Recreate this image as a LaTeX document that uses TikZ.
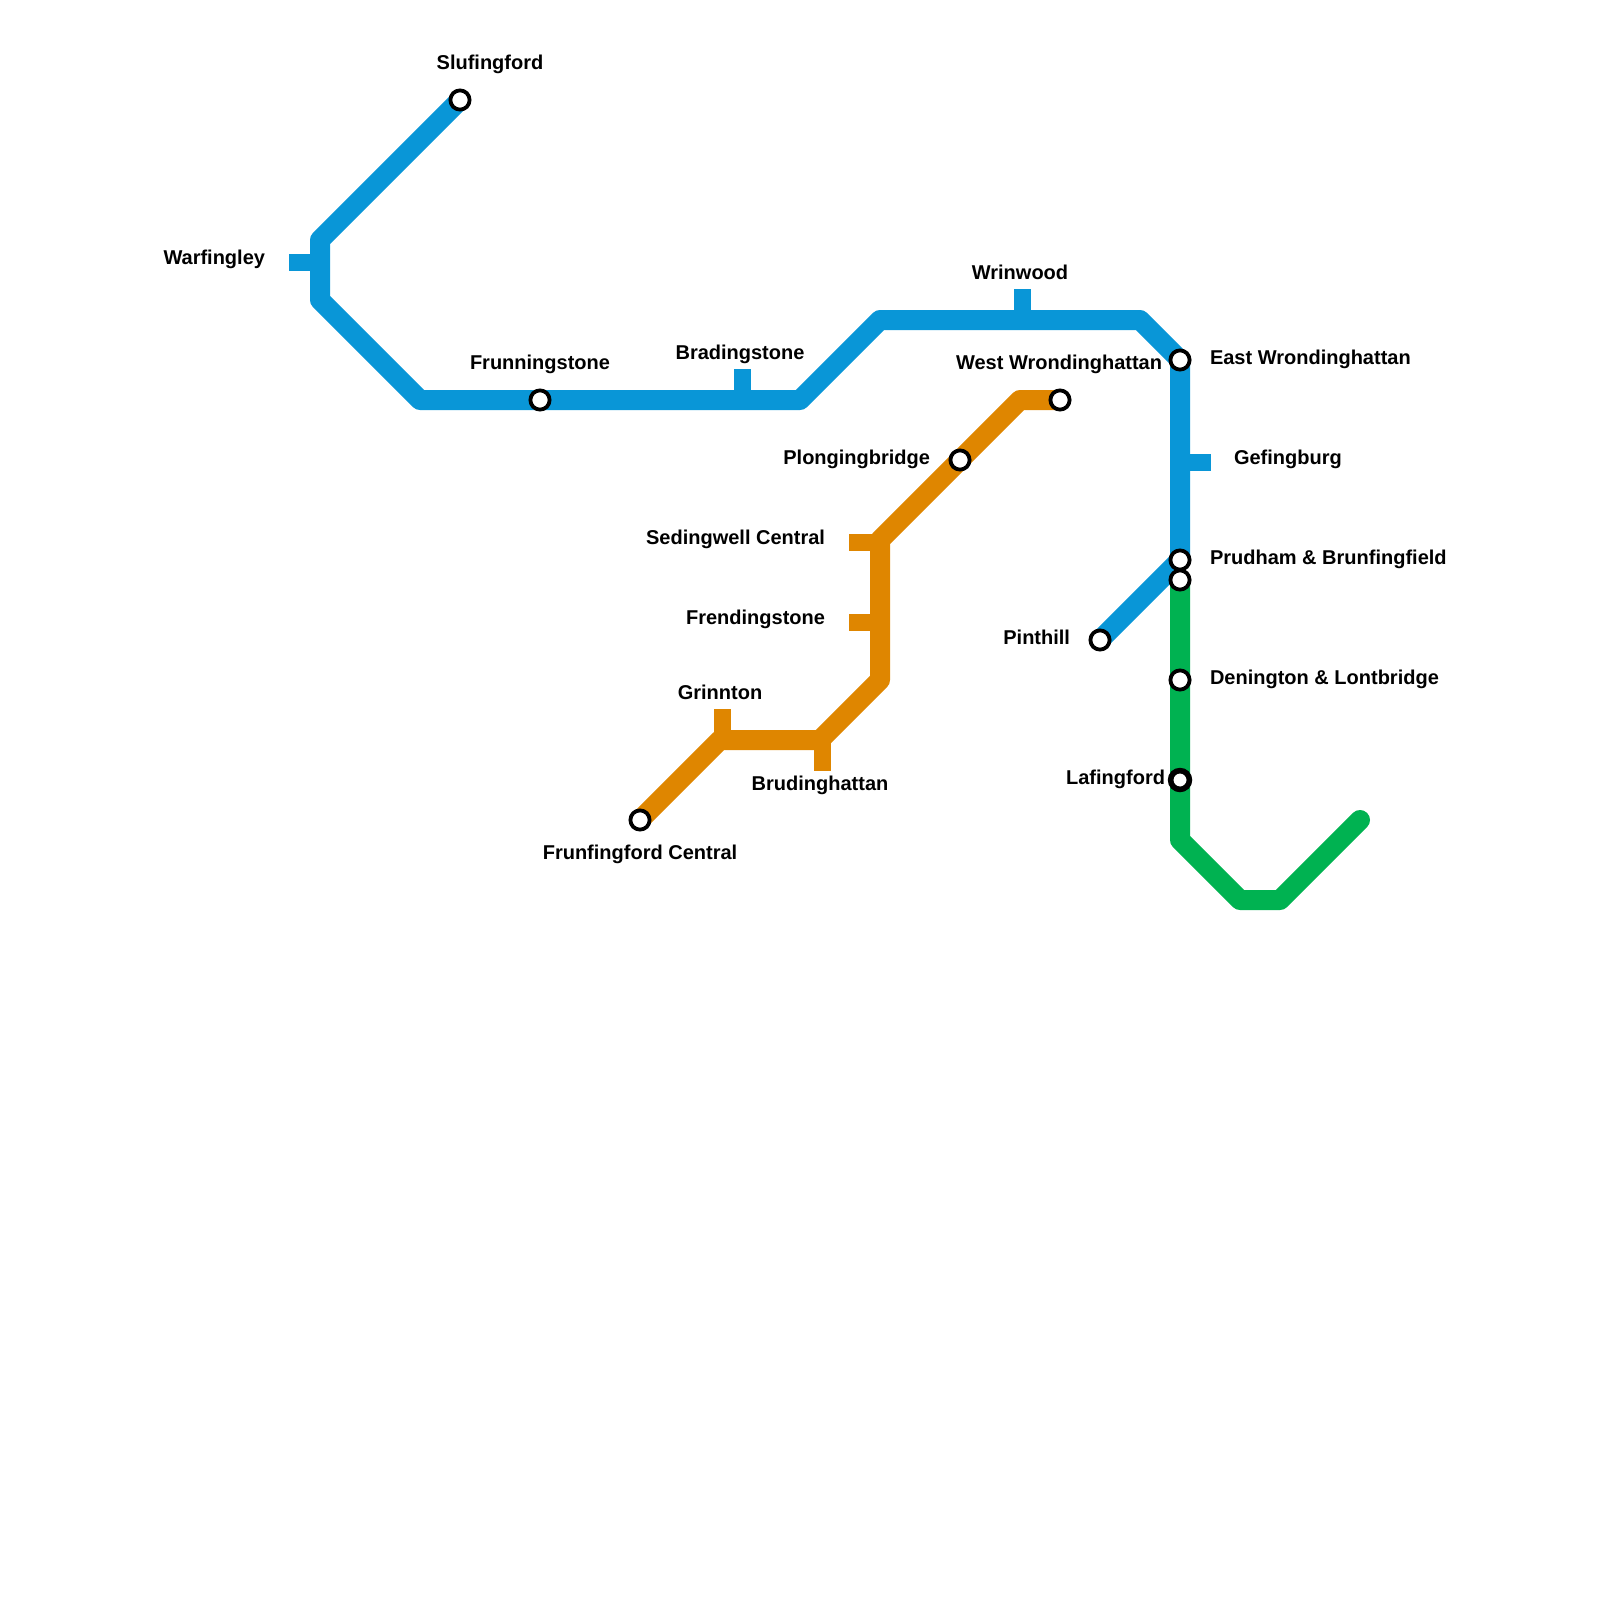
\documentclass[tikz,border=0pt]{standalone}
\usepackage{fontspec}
\setmainfont{Liberation Sans}
\usepackage{xcolor}
\usepackage{tikz}
\usetikzlibrary{positioning, backgrounds}
\definecolor{lineblue}{RGB}{9,150,215}
\definecolor{lineorange}{RGB}{223,134,0}
\definecolor{linegreen}{RGB}{0,178,81}
\tikzset{
  station/.style={
    circle,
    draw=black,
    fill=white,
    line width=1.9pt,
    inner sep=0pt,
    outer sep=0pt,
    minimum size=9.6pt
  },
  bigstation/.style={
    station,
    line width=2.8pt,
    minimum size=9.4pt
  },
  stationlabel/.style={
    font=\fontsize{10}{12}\selectfont\bfseries,
    inner sep=0pt,
    outer sep=0pt,
    text height=7pt,
    text depth=2pt
  },
  route/.style={line width=10pt, line join=round},
  stub/.style={line width=8.5pt}
}

\begin{document}
\begin{tikzpicture}[x=0.5pt, y=-0.5pt]
\useasboundingbox (0,0) rectangle (1600,1600);

\node[station] (slufingford) at (460,100) {};
\node[station] (frunningstone) at (540,400) {};
\node[station] (eastwrond) at (1180,360) {};
\node[station] (prudham) at (1180,560) {};
\node[station] (pinthill) at (1100,640) {};
\node[station] (frunfingford) at (640,820) {};
\node[station] (plonging) at (960,460) {};
\node[station] (westwrond) at (1060,400) {};
\node[station] (linkgreen) at (1180,580) {};
\node[station] (denington) at (1180,680) {};
\node[bigstation] (lafingford) at (1180,780) {};

\coordinate (warfingley) at (320,262);
\coordinate (warfingleyend) at (289,262);
\coordinate (bradingstone) at (742,400);
\coordinate (bradingstoneend) at (742,369);
\coordinate (wrinwood) at (1022,320);
\coordinate (wrinwoodend) at (1022,289);
\coordinate (gefingburg) at (1180,462);
\coordinate (gefingburgend) at (1211,462);
\coordinate (sedingwell) at (880,542);
\coordinate (sedingwellend) at (849,542);
\coordinate (frendingstone) at (880,622);
\coordinate (frendingstoneend) at (849,622);
\coordinate (grinnton) at (722,740);
\coordinate (grinntonend) at (722,709);
\coordinate (brudinghattan) at (822,740);
\coordinate (brudinghattanend) at (822,771);

\coordinate (b1) at (320,240);
\coordinate (b2) at (320,300);
\coordinate (b3) at (420,400);
\coordinate (b4) at (800,400);
\coordinate (b5) at (880,320);
\coordinate (b6) at (1140,320);
\coordinate (o1) at (720,740);
\coordinate (o2) at (820,740);
\coordinate (o3) at (880,680);
\coordinate (o4) at (880,540);
\coordinate (o5) at (1020,400);
\coordinate (g1) at (1180,840);
\coordinate (g2) at (1240,900);
\coordinate (g3) at (1280,900);
\coordinate (greenend) at (1360,820);

\begin{scope}[on background layer]
\draw[stub, lineblue] (warfingley) -- (warfingleyend);
\draw[stub, lineblue] (bradingstone) -- (bradingstoneend);
\draw[stub, lineblue] (wrinwood) -- (wrinwoodend);
\draw[stub, lineblue] (gefingburg) -- (gefingburgend);
\draw[stub, lineorange] (sedingwell) -- (sedingwellend);
\draw[stub, lineorange] (frendingstone) -- (frendingstoneend);
\draw[stub, lineorange] (grinnton) -- (grinntonend);
\draw[stub, lineorange] (brudinghattan) -- (brudinghattanend);

\draw[route, linegreen, line cap=round] (linkgreen.center) -- (g1) -- (g2) -- (g3) -- (greenend);
\draw[route, lineorange] (frunfingford.center) -- (o1) -- (o2) -- (o3) -- (o4) -- (o5) -- (westwrond.center);
\draw[route, lineblue] (slufingford.center) -- (b1) -- (b2) -- (b3) -- (b4) -- (b5) -- (b6)
  -- (eastwrond.center) -- (prudham.center) -- (pinthill.center);
\end{scope}

\node[stationlabel, above=13pt of slufingford.center, xshift=15pt] {Slufingford};
\node[stationlabel, left=12pt of warfingleyend, yshift=1.25pt] {Warfingley};
\node[stationlabel, above=13.5pt of frunningstone.center] {Frunningstone};
\node[stationlabel, above=3pt of bradingstoneend, xshift=-1pt] {Bradingstone};
\node[stationlabel, above=3pt of wrinwoodend, xshift=-1pt] {Wrinwood};
\node[stationlabel, anchor=east] at (1162,364.5) {West Wrondinghattan};
\node[stationlabel, right=15pt of eastwrond.center, yshift=.25pt] {East Wrondinghattan};
\node[stationlabel, right=11.5pt of gefingburgend, yshift=1.25pt] {Gefingburg};
\node[stationlabel, right=15pt of prudham.center, yshift=.25pt] {Prudham \& Brunfingfield};
\node[stationlabel, right=15pt of denington.center, yshift=.25pt] {Denington \& Lontbridge};
\node[stationlabel, left=7.5pt of lafingford.center, yshift=.25pt] {Lafingford};
\node[stationlabel, left=15pt of pinthill.center, yshift=.25pt] {Pinthill};
\node[stationlabel, left=15pt of plonging.center, yshift=.25pt] {Plongingbridge};
\node[stationlabel, left=12pt of sedingwellend, yshift=1.25pt] {Sedingwell Central};
\node[stationlabel, left=12pt of frendingstoneend, yshift=1.25pt] {Frendingstone};
\node[stationlabel, above=3pt of grinntonend, xshift=-1pt] {Grinnton};
\node[stationlabel, below=2.5pt of brudinghattanend, xshift=-1pt] {Brudinghattan};
\node[stationlabel, below=12.5pt of frunfingford.center] {Frunfingford Central};
\end{tikzpicture}
\end{document}
